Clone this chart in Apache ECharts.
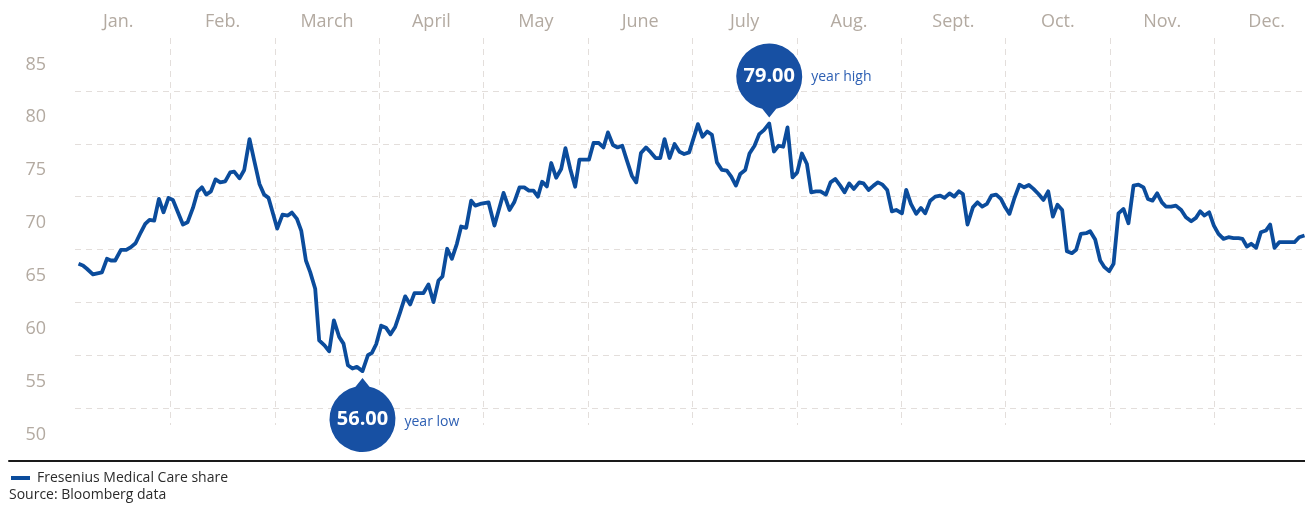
<!DOCTYPE html>
<html>
<head>
<meta charset="utf-8">
<script src="https://cdn.jsdelivr.net/npm/echarts@6/dist/echarts.min.js"></script>
<style>
  html, body { margin: 0; padding: 0; background: #fff; }
  #chart { width: 1305px; height: 505px; }
</style>
</head>
<body>
<div id="chart"></div>
<script>
// ---- data ----
const MONTHS = ['Jan.', 'Feb.', 'March', 'April', 'May', 'June', 'July', 'Aug.', 'Sept.', 'Oct.', 'Nov.', 'Dec.'];
const Y_TICKS = [50, 55, 60, 65, 70, 75, 80, 85];
const SERIES_NAME = 'Fresenius Medical Care share';
const SOURCE = 'Source: Bloomberg data';
const YEAR_HIGH = '79.00';
const YEAR_LOW = '56.00';

// position on the time axis, in months from 1 January
const POS = [
  0.120,0.162,0.200,0.258,0.344,0.392,0.430,0.471,0.526,0.577,0.622,0.666,0.717,0.759,0.800,0.845,0.890,0.934,0.982,1.024,
  1.068,1.120,1.164,1.216,1.260,1.302,1.343,1.388,1.432,1.477,1.525,1.573,1.611,1.662,1.707,1.758,1.803,1.853,1.898,1.940,
  1.988,2.023,2.074,2.125,2.164,2.212,2.253,2.298,2.339,2.387,2.425,2.476,2.521,2.566,2.617,2.658,2.700,2.744,2.786,2.840,
  2.892,2.930,2.971,3.019,3.064,3.108,3.153,3.201,3.249,3.297,3.338,3.383,3.424,3.472,3.520,3.568,3.606,3.651,3.696,3.744,
  3.785,3.833,3.881,3.920,3.967,4.047,4.104,4.191,4.248,4.293,4.344,4.389,4.434,4.478,4.520,4.561,4.606,4.648,4.695,4.743,
  4.784,4.830,4.877,4.918,4.964,5.009,5.053,5.104,5.148,5.191,5.239,5.283,5.328,5.373,5.420,5.462,5.507,5.555,5.602,5.647,
  5.692,5.733,5.781,5.829,5.876,5.921,5.969,6.053,6.097,6.142,6.187,6.235,6.283,6.330,6.372,6.417,6.458,6.506,6.547,6.595,
  6.640,6.685,6.736,6.781,6.825,6.870,6.911,6.959,7.004,7.049,7.097,7.138,7.183,7.227,7.279,7.323,7.368,7.416,7.457,7.502,
  7.547,7.598,7.639,7.687,7.735,7.777,7.821,7.866,7.911,7.952,8.007,8.048,8.093,8.144,8.189,8.230,8.278,8.326,8.374,8.415,
  8.463,8.508,8.553,8.591,8.635,8.687,8.731,8.776,8.821,8.865,8.910,8.955,8.996,9.037,9.082,9.133,9.178,9.223,9.267,9.315,
  9.363,9.408,9.453,9.497,9.542,9.587,9.635,9.676,9.721,9.772,9.810,9.858,9.906,9.947,9.992,10.034,10.081,10.129,10.177,10.225,
  10.273,10.321,10.363,10.407,10.452,10.497,10.535,10.586,10.631,10.682,10.727,10.778,10.823,10.864,10.905,10.950,10.995,11.039,11.087,11.135,
  11.183,11.231,11.269,11.311,11.352,11.400,11.445,11.493,11.534,11.576,11.621,11.671,11.716,11.767,11.812,11.863
];

// share price (EUR)
const PRICE = [
  66.15,65.99,65.68,65.14,65.33,66.62,66.46,66.46,67.47,67.47,67.72,68.09,69.13,69.92,70.30,70.24,72.28,71.02,72.38,72.19,
  71.11,69.86,70.07,71.43,72.97,73.38,72.69,73.00,74.13,73.85,73.94,74.79,74.86,74.23,75.02,77.94,75.90,73.70,72.69,72.38,
  70.71,69.48,70.80,70.71,70.99,70.40,69.29,66.46,65.36,63.79,58.91,58.44,57.88,60.80,59.23,58.60,56.56,56.25,56.40,56.00,
  57.50,57.72,58.54,60.30,60.11,59.48,60.17,61.58,63.07,62.31,63.38,63.38,63.38,64.20,62.53,64.57,64.95,67.57,66.62,68.04,
  69.67,69.55,72.12,71.65,71.81,71.96,69.76,72.85,71.24,71.96,73.38,73.38,73.07,73.07,72.50,73.91,73.47,75.68,74.29,75.11,
  77.09,75.11,73.44,75.99,75.99,75.99,77.57,77.57,77.15,78.57,77.38,77.15,77.31,75.90,74.48,73.85,76.62,77.15,76.68,76.15,
  76.15,77.94,76.15,77.47,76.74,76.53,76.68,79.36,78.16,78.66,78.35,75.74,75.02,74.95,74.39,73.54,74.64,75.02,76.58,77.31,
  78.41,78.79,79.41,76.77,77.31,77.22,79.04,74.32,74.79,76.58,75.58,72.91,73.00,73.00,72.69,73.85,74.17,73.54,72.91,73.75,
  73.23,73.85,73.75,73.13,73.54,73.85,73.63,73.13,71.11,71.24,70.92,73.13,71.81,70.87,71.43,70.92,72.12,72.50,72.59,72.38,
  72.81,72.50,73.00,72.75,69.86,71.49,71.96,71.56,71.81,72.59,72.69,72.28,71.49,70.87,72.28,73.63,73.38,73.60,73.23,72.75,
  72.19,73.00,70.61,71.74,71.24,67.34,67.15,67.47,68.98,69.04,69.23,68.44,66.46,65.83,65.45,66.15,70.92,71.34,69.98,73.54,
  73.63,73.38,72.28,72.12,72.81,71.96,71.56,71.56,71.65,71.24,70.55,70.17,70.49,71.11,70.71,71.02,69.76,68.98,68.51,68.66,
  68.57,68.57,68.51,67.78,68.04,67.66,69.13,69.29,69.86,67.66,68.19,68.19,68.19,68.19,68.66,68.82
];

const seriesData = POS.map((p, i) => [p, PRICE[i]]);

// ---- styles ----
const LINE_BLUE = '#0b4c9c';
const BUBBLE_BLUE = '#1750a3';
const NOTE_BLUE = '#2d5fb3';
const AXIS_GREY = '#b3aaa1';
const GRID_COL = '#e3dedb';
const FONT = '"Open Sans", "Noto Sans", sans-serif';

const PIN_DOWN = 'path://M-7,32.25 A33,33 0 1,1 7,32.25 L0,41 Z';
const PIN_UP = 'path://M-7,-32.25 A33,33 0 1,0 7,-32.25 L0,-41 Z';

const chart = echarts.init(document.getElementById('chart'), null, { renderer: 'canvas' });

const Y_MIN = 47.5, Y_MAX = 87.5;
const MONTH_PX = 104.4;

chart.setOption({
  animation: false,
  backgroundColor: '#ffffff',
  textStyle: { fontFamily: FONT },
  title: {
    text: SOURCE,
    left: 9, top: 488,
    padding: 0,
    textStyle: { fontSize: 14, fontWeight: 'normal', color: '#2b2b2b', fontFamily: FONT }
  },
  legend: {
    data: [SERIES_NAME],
    left: 11, top: 471,
    padding: 0,
    icon: 'rect',
    itemWidth: 19, itemHeight: 4,
    textStyle: { fontSize: 14, color: '#2b2b2b', fontFamily: FONT, padding: [0, 0, 0, 2] }
  },
  grid: [
    // month columns
    { left: 66, width: 12 * MONTH_PX, top: 38, bottom: 80, containLabel: false, outerBoundsMode: 'none' },
    // price plot
    { left: 75, width: 12 * MONTH_PX - 9, top: 38, bottom: 44, containLabel: false, outerBoundsMode: 'none' },
    // black base line
    { left: 9, right: 0, top: 38, bottom: 44, containLabel: false, outerBoundsMode: 'none' }
  ],
  xAxis: [
    { // month labels on top
      gridIndex: 0, type: 'category', position: 'top', data: MONTHS, boundaryGap: true,
      axisLine: { show: false }, axisTick: { show: false }, splitLine: { show: false },
      axisLabel: { color: AXIS_GREY, fontSize: 18, margin: 7, fontFamily: FONT }
    },
    { // vertical month separators
      gridIndex: 0, type: 'value', min: 0, max: 12, interval: 1, position: 'bottom',
      axisLine: { show: false }, axisTick: { show: false }, axisLabel: { show: false },
      splitLine: { show: true, showMinLine: false, showMaxLine: false,
        lineStyle: { color: GRID_COL, type: [6, 5], width: 1 } }
    },
    { // time axis for the price line
      gridIndex: 1, type: 'value', min: 9 / MONTH_PX, max: 12,
      axisLine: { show: false }, axisTick: { show: false }, axisLabel: { show: false },
      splitLine: { show: false }
    },
    { // base line
      gridIndex: 2, type: 'value', min: 0, max: 1,
      axisLine: { show: true, lineStyle: { color: '#1a1a1a', width: 2 } },
      axisTick: { show: false }, axisLabel: { show: false }, splitLine: { show: false }
    }
  ],
  yAxis: [
    { gridIndex: 0, type: 'value', min: 0, max: 1, show: false },
    { // horizontal grid lines
      gridIndex: 1, type: 'value', min: Y_MIN, max: Y_MAX, interval: 5,
      axisLine: { show: false }, axisTick: { show: false }, axisLabel: { show: false },
      splitLine: { show: true, showMinLine: false, showMaxLine: false,
        lineStyle: { color: GRID_COL, type: [6, 5], width: 1 } }
    },
    { // price labels
      gridIndex: 1, type: 'value', min: Y_MIN, max: Y_MAX, position: 'left',
      axisLine: { show: false }, axisTick: { show: false }, splitLine: { show: false },
      axisLabel: { show: true, customValues: Y_TICKS, color: AXIS_GREY, fontSize: 18, margin: 29,
        padding: [10, 0, 0, 0], fontFamily: FONT }
    },
    { gridIndex: 2, type: 'value', min: 0, max: 1, show: false }
  ],
  series: [
    {
      name: SERIES_NAME,
      type: 'line',
      xAxisIndex: 2, yAxisIndex: 1,
      data: seriesData,
      showSymbol: false,
      symbol: 'none',
      clip: true,
      lineStyle: { color: LINE_BLUE, width: 3.8, join: 'round' },
      itemStyle: { color: LINE_BLUE },
      markPoint: {
        silent: true,
        data: [
          {
            type: 'max', symbol: PIN_DOWN, symbolSize: [66, 74], symbolOffset: [0, -43],
            itemStyle: { color: BUBBLE_BLUE },
            label: { show: true, position: 'inside', offset: [0, -4], formatter: YEAR_HIGH,
              color: '#fff', fontSize: 20, fontWeight: 'bold', fontFamily: FONT }
          },
          {
            type: 'max', symbol: 'circle', symbolSize: 0,
            label: { show: true, position: 'right', distance: 0, offset: [42, -47], formatter: 'year high',
              color: NOTE_BLUE, fontSize: 14, fontFamily: FONT }
          },
          {
            type: 'min', symbol: PIN_UP, symbolSize: [66, 74], symbolOffset: [0, 44],
            itemStyle: { color: BUBBLE_BLUE },
            label: { show: true, position: 'inside', offset: [0, 4], formatter: YEAR_LOW,
              color: '#fff', fontSize: 20, fontWeight: 'bold', fontFamily: FONT }
          },
          {
            type: 'min', symbol: 'circle', symbolSize: 0,
            label: { show: true, position: 'right', distance: 0, offset: [42, 51], formatter: 'year low',
              color: NOTE_BLUE, fontSize: 14, fontFamily: FONT }
          }
        ]
      }
    }
  ]
});
</script>
</body>
</html>
